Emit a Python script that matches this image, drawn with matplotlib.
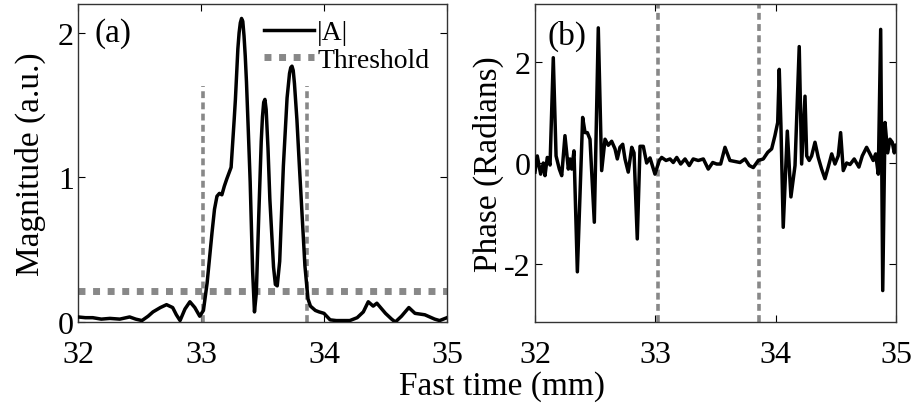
import matplotlib
matplotlib.use("Agg")
import matplotlib.pyplot as plt
from matplotlib.lines import Line2D

plt.rcParams['font.family'] = ['Liberation Serif', 'DejaVu Serif']

# ---------------- data ----------------
mag_x = [32.00, 32.06, 32.12, 32.19, 32.26, 32.34, 32.42, 32.47, 32.52, 32.57,
         32.61, 32.67, 32.72, 32.77, 32.80, 32.83, 32.87, 32.91, 32.95, 32.99,
         33.02, 33.05, 33.09, 33.11, 33.13, 33.15, 33.17, 33.19, 33.21, 33.245,
         33.27, 33.28, 33.30, 33.31, 33.32, 33.33, 33.34, 33.35, 33.36, 33.37,
         33.385, 33.40, 33.42, 33.435, 33.45, 33.47, 33.49, 33.50, 33.51, 33.52,
         33.53, 33.545, 33.56, 33.59, 33.605, 33.62, 33.64, 33.67, 33.70, 33.72,
         33.73, 33.74, 33.75, 33.76, 33.78, 33.80, 33.83, 33.845, 33.87, 33.89,
         33.93, 33.96, 34.00, 34.05, 34.10, 34.16, 34.21, 34.27, 34.32, 34.36,
         34.40, 34.43, 34.47, 34.50, 34.55, 34.58, 34.63, 34.69, 34.74, 34.78,
         34.82, 34.86, 34.90, 34.94, 34.97, 35.00]
mag_y = [0.035, 0.03, 0.03, 0.02, 0.025, 0.02, 0.035, 0.02, 0.01, 0.04,
         0.07, 0.10, 0.12, 0.10, 0.05, 0.01, 0.09, 0.14, 0.10, 0.04,
         0.08, 0.27, 0.62, 0.78, 0.87, 0.89, 0.88, 0.94, 0.99, 1.07,
         1.40, 1.54, 1.89, 2.00, 2.07, 2.10, 2.08, 1.98, 1.84, 1.66,
         1.32, 0.97, 0.35, 0.07, 0.20, 0.74, 1.25, 1.42, 1.52, 1.54,
         1.47, 1.20, 0.85, 0.38, 0.26, 0.25, 0.42, 1.08, 1.55, 1.72,
         1.76, 1.77, 1.74, 1.65, 1.40, 1.08, 0.62, 0.39, 0.16, 0.11,
         0.08, 0.07, 0.06, 0.015, 0.01, 0.01, 0.01, 0.03, 0.07, 0.14,
         0.11, 0.13, 0.09, 0.06, 0.02, 0.00, 0.04, 0.10, 0.06, 0.055,
         0.05, 0.035, 0.02, 0.01, 0.02, 0.03]

phase_x = [32.000, 32.019, 32.047, 32.069, 32.083, 32.102, 32.125, 32.152, 32.175, 32.202,
           32.222, 32.249, 32.277, 32.291, 32.305, 32.324, 32.352, 32.396, 32.416, 32.435,
           32.457, 32.493, 32.526, 32.554, 32.582, 32.609, 32.637, 32.665, 32.684, 32.706,
           32.729, 32.748, 32.775, 32.804, 32.823, 32.850, 32.873, 32.900, 32.928, 32.956,
           32.997, 33.033, 33.053, 33.089, 33.122, 33.149, 33.178, 33.211, 33.247, 33.282,
           33.315, 33.357, 33.399, 33.440, 33.477, 33.510, 33.543, 33.579, 33.620, 33.662,
           33.704, 33.745, 33.781, 33.814, 33.856, 33.897, 33.934, 33.967, 33.994, 34.017,
           34.030, 34.044, 34.063, 34.097, 34.127, 34.161, 34.196, 34.216, 34.244, 34.258,
           34.279, 34.299, 34.327, 34.354, 34.382, 34.410, 34.437, 34.466, 34.493, 34.520,
           34.540, 34.562, 34.590, 34.618, 34.653, 34.692, 34.720, 34.756, 34.784, 34.811,
           34.831, 34.853, 34.873, 34.890, 34.909, 34.931, 34.950, 34.969, 34.986, 35.000]
phase_y = [-0.18, 0.14, -0.22, 0.00, -0.25, 0.11, -0.04, 2.08, 0.14, -0.12,
           -0.25, 0.54, -0.12, 0.08, -0.12, 0.24, -2.15, 0.90, 0.60, 0.60,
           0.47, -1.17, 2.67, -0.15, 0.47, 0.35, 0.43, 0.28, 0.08, 0.31,
           0.37, 0.08, -0.18, 0.31, 0.20, -1.50, 0.33, 0.33, 0.00, 0.10,
           -0.22, 0.05, 0.11, 0.05, 0.08, 0.01, 0.11, -0.02, 0.08, -0.05,
           0.08, 0.05, 0.08, -0.12, 0.01, -0.02, -0.02, 0.31, 0.05, 0.03,
           0.01, 0.08, -0.05, -0.09, 0.05, 0.08, 0.21, 0.28, 0.54, 0.80,
           1.85, 0.73, -1.27, 0.63, -0.67, -0.05, 2.30, -0.02, 1.32, 0.14,
           0.05, 0.14, 0.41, 0.11, -0.12, -0.31, -0.08, 0.18, -0.02, 0.14,
           0.60, -0.15, 0.00, -0.03, 0.08, -0.08, 0.14, 0.31, 0.18, 0.05,
           0.18, -0.22, 2.64, -2.52, 0.80, 0.20, 0.47, 0.41, 0.20, 0.35]

threshold = 0.215
gate = [33.02, 33.86]
gate_height = 1.63
x_ticks = [32, 33, 34, 35]
mag_yticks = [0, 1, 2]
phase_yticks = [-2, 0, 2]
phase_yticklabels = ['-2', '0', '2']

GRAY = '#888888'
FS = 23
LW = 2.5

fig = plt.figure(figsize=(9.15, 4.06), dpi=100)
ax1 = fig.add_axes([0.0852, 0.2044, 0.4033, 0.7833])
ax2 = fig.add_axes([0.5847, 0.2044, 0.3945, 0.7833])

# ---- panel (a) ----
ax1.plot(mag_x, mag_y, color='black', lw=LW, zorder=3, solid_joinstyle='round')
ax1.plot([32, 35], [threshold, threshold], color=GRAY, lw=5, dashes=(1.0, 1.1), zorder=2)
for g in gate:
    ax1.plot([g, g], [0, gate_height], color=GRAY, lw=2.6, dashes=(1.9, 1.2), zorder=2)
ax1.set_xlim(32, 35)
ax1.set_ylim(0, 2.2)
ax1.set_yticks(mag_yticks)
ax1.set_ylabel('Magnitude (a.u.)', fontsize=24)
ax1.yaxis.set_label_coords(-0.086, 0.5)
ax1.text(0.046, 0.91, '(a)', transform=ax1.transAxes, fontsize=24, va='center', ha='left')
handles = [Line2D([], [], color='black', lw=LW),
           Line2D([], [], color=GRAY, lw=5, dashes=(1.0, 1.1))]
ax1.legend(handles, ['|A|', 'Threshold'], loc='upper left', bbox_to_anchor=(0.505, 0.95),
           frameon=False, fontsize=20, handlelength=1.8, handletextpad=0.1,
           labelspacing=0.08, borderpad=0, borderaxespad=0)

# ---- panel (b) ----
ax2.plot(phase_x, phase_y, color='black', lw=LW, zorder=3)
for g in gate:
    ax2.axvline(g, color=GRAY, lw=2.6, dashes=(1.9, 1.2), zorder=2)
ax2.set_xlim(32, 35)
ax2.set_ylim(-3.1416, 3.1416)
ax2.set_yticks(phase_yticks)
ax2.set_yticklabels(phase_yticklabels)
ax2.set_ylabel('Phase (Radians)', fontsize=24)
ax2.yaxis.set_label_coords(-0.085, 0.5)
ax2.text(0.036, 0.90, '(b)', transform=ax2.transAxes, fontsize=24, va='center', ha='left')

for ax in (ax1, ax2):
    ax.set_xticks(x_ticks)
    ax.tick_params(direction='in', top=True, right=True, length=5, width=0.8,
                   labelsize=FS)
    ax.tick_params(axis='x', pad=13)
    ax.tick_params(axis='y', pad=3)
    for s in ax.spines.values():
        s.set_linewidth(1.0)
        s.set_color('#333333')

fig.text(0.5486, 0.027, 'Fast time (mm)', fontsize=24, ha='center', va='baseline')

fig.savefig('out.png', dpi=100)
